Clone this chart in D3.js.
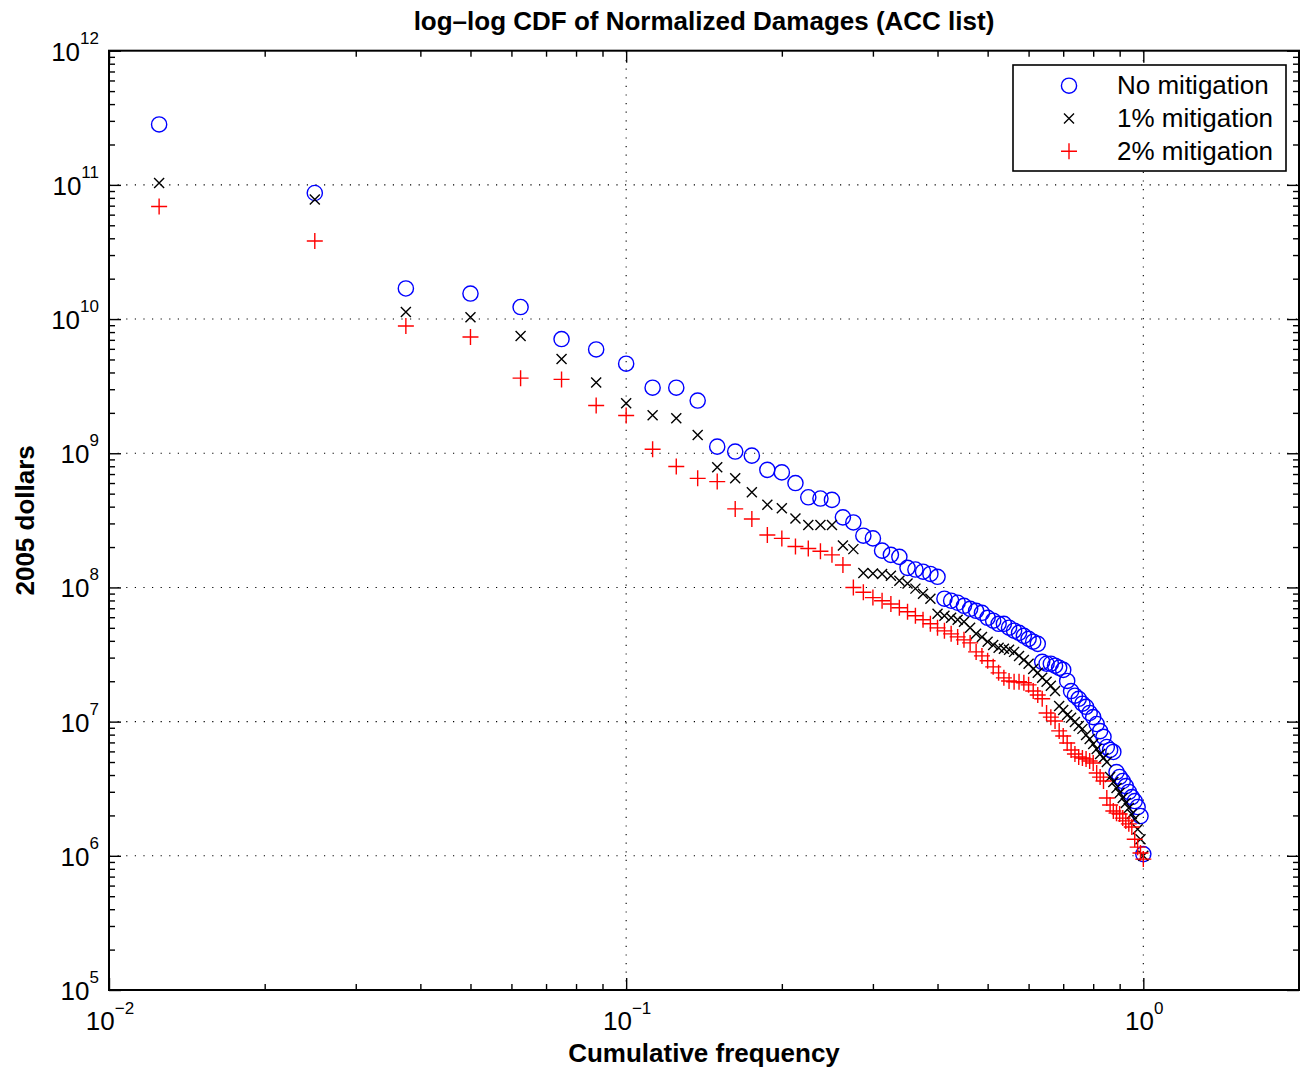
<!DOCTYPE html>
<html>
<head>
<meta charset="utf-8">
<script src="https://cdn.jsdelivr.net/npm/d3@7"></script>
<style>
  html, body { margin: 0; padding: 0; background: #fff; }
  svg { display: block; font-family: "Liberation Sans", Arial, Helvetica, sans-serif; }
</style>
</head>
<body>
<svg id="chart" width="1304" height="1079"></svg>
<script>
// Empirical CDF of normalized hurricane damages (80 events), three mitigation scenarios.
const cumulativeFrequency = [
  0.0125, 0.025, 0.0375, 0.05, 0.0625, 0.075, 0.0875, 0.1, 0.1125, 0.125,
  0.1375, 0.15, 0.1625, 0.175, 0.1875, 0.2, 0.2125, 0.225, 0.2375, 0.25,
  0.2625, 0.275, 0.2875, 0.3, 0.3125, 0.325, 0.3375, 0.35, 0.3625, 0.375,
  0.3875, 0.4, 0.4125, 0.425, 0.4375, 0.45, 0.4625, 0.475, 0.4875, 0.5,
  0.5125, 0.525, 0.5375, 0.55, 0.5625, 0.575, 0.5875, 0.6, 0.6125, 0.625,
  0.6375, 0.65, 0.6625, 0.675, 0.6875, 0.7, 0.7125, 0.725, 0.7375, 0.75,
  0.7625, 0.775, 0.7875, 0.8, 0.8125, 0.825, 0.8375, 0.85, 0.8625, 0.875,
  0.8875, 0.9, 0.9125, 0.925, 0.9375, 0.95, 0.9625, 0.975, 0.9875, 1.0
];

// Damages in 2005 dollars, sorted from largest to smallest.
const noMitigation = [
  2.82e11, 8.7e10, 1.69e10, 1.55e10, 1.23e10, 7.1e9, 5.94e9, 4.65e9, 3.08e9, 3.08e9,
  2.47e9, 1.12e9, 1.03e9, 9.6e8, 7.52e8, 7.2e8, 6.0e8, 4.7e8, 4.6e8, 4.49e8,
  3.33e8, 3.05e8, 2.43e8, 2.32e8, 1.88e8, 1.75e8, 1.69e8, 1.40e8, 1.36e8, 1.31e8,
  1.26e8, 1.20e8, 8.24e7, 7.96e7, 7.69e7, 7.3e7, 6.93e7, 6.70e7, 6.47e7, 5.94e7,
  5.65e7, 5.36e7, 5.36e7, 5.01e7, 4.76e7, 4.59e7, 4.36e7, 4.14e7, 3.94e7, 3.80e7,
  2.79e7, 2.70e7, 2.70e7, 2.61e7, 2.52e7, 2.43e7, 2.01e7, 1.69e7, 1.56e7, 1.48e7,
  1.36e7, 1.29e7, 1.16e7, 1.08e7, 9.6e6, 8.5e6, 7.7e6, 6.47e6, 6.15e6, 5.94e6,
  4.21e6, 3.87e6, 3.61e6, 3.31e6, 2.99e6, 2.74e6, 2.56e6, 2.31e6, 1.98e6, 1.03e6
];

const mitigation1 = [
  1.035e11, 7.78e10, 1.13e10, 1.03e10, 7.47e9, 5.03e9, 3.37e9, 2.36e9, 1.92e9, 1.82e9,
  1.37e9, 7.86e8, 6.5e8, 5.12e8, 4.14e8, 3.89e8, 3.27e8, 2.92e8, 2.92e8, 2.92e8,
  2.05e8, 1.93e8, 1.28e8, 1.27e8, 1.26e8, 1.22e8, 1.12e8, 1.07e8, 9.8e7, 8.97e7,
  8.24e7, 6.37e7, 6.15e7, 5.94e7, 5.74e7, 5.54e7, 5.0e7, 4.51e7, 4.28e7, 3.94e7,
  3.73e7, 3.55e7, 3.49e7, 3.43e7, 3.31e7, 3.09e7, 2.88e7, 2.70e7, 2.47e7, 2.31e7,
  2.12e7, 1.98e7, 1.85e7, 1.69e7, 1.31e7, 1.22e7, 1.12e7, 1.07e7, 9.95e6, 9.29e6,
  8.83e6, 7.96e6, 7.43e6, 6.82e6, 6.25e6, 5.74e6, 5.36e6, 5.0e6, 3.86e6, 3.55e6,
  3.2e6, 2.94e6, 2.70e6, 2.48e6, 2.27e6, 2.05e6, 1.88e6, 1.58e6, 1.33e6, 1.0e6
];

const mitigation2 = [
  6.9e10, 3.82e10, 8.87e9, 7.35e9, 3.63e9, 3.55e9, 2.27e9, 1.91e9, 1.07e9, 7.96e8,
  6.5e8, 6.15e8, 3.85e8, 3.24e8, 2.46e8, 2.32e8, 2.02e8, 1.95e8, 1.86e8, 1.75e8,
  1.47e8, 1.0e8, 9.2e7, 8.4e7, 7.96e7, 7.52e7, 7.06e7, 6.59e7, 6.15e7, 5.74e7,
  5.36e7, 5.0e7, 4.75e7, 4.51e7, 4.28e7, 4.07e7, 3.86e7, 3.31e7, 3.09e7, 2.84e7,
  2.56e7, 2.31e7, 2.12e7, 2.01e7, 1.98e7, 1.98e7, 1.95e7, 1.88e7, 1.69e7, 1.58e7,
  1.48e7, 1.16e7, 1.08e7, 1.01e7, 8.53e6, 7.82e6, 6.93e6, 6.15e6, 5.74e6, 5.46e6,
  5.36e6, 5.27e6, 5.09e6, 4.92e6, 4.14e6, 3.86e6, 3.61e6, 2.70e6, 2.39e6, 2.16e6,
  2.08e6, 2.05e6, 1.91e6, 1.82e6, 1.73e6, 1.64e6, 1.33e6, 1.16e6, 1.05e6, 9.45e5
];

const seriesNames = ["No mitigation", "1% mitigation", "2% mitigation"];
const xMajorTicks = [1e-2, 1e-1, 1e0];
const xTickExponents = ["−2", "−1", "0"];
const yMajorTicks = [1e5, 1e6, 1e7, 1e8, 1e9, 1e10, 1e11, 1e12];
const yTickExponents = ["5", "6", "7", "8", "9", "10", "11", "12"];

const title = "log–log CDF of Normalized Damages (ACC list)";
const xTitle = "Cumulative frequency";
const yTitle = "2005 dollars";

// ---- layout ----
const plot = { left: 109, right: 1299, top: 50.7, bottom: 990 };
const svg = d3.select("#chart");

const x = d3.scaleLog().domain([0.01, 2]).range([plot.left, plot.right]);
const y = d3.scaleLog().domain([1e5, 1e12]).range([plot.bottom, plot.top]);

// Minor tick positions: 2..9 times each power of ten inside the domain
function minorTicks(scale) {
  const [a, b] = scale.domain();
  const out = [];
  for (let e = Math.floor(Math.log10(a)); e <= Math.ceil(Math.log10(b)); e++) {
    for (let m = 2; m <= 9; m++) {
      const v = m * Math.pow(10, e);
      if (v > a && v < b) out.push(v);
    }
  }
  return out;
}
const xMinor = minorTicks(x);
const yMinor = minorTicks(y);

// ---- grid ----
const grid = svg.append("g")
  .attr("stroke", "#000")
  .attr("stroke-width", 1.1)
  .attr("stroke-dasharray", "1.2 7.4")
  .attr("fill", "none");
grid.selectAll("line.gx")
  .data(xMajorTicks.filter(v => x(v) > plot.left + 1))
  .join("line")
  .attr("class", "gx")
  .attr("x1", d => x(d)).attr("x2", d => x(d))
  .attr("y1", plot.bottom).attr("y2", plot.top);
grid.selectAll("line.gy")
  .data(yMajorTicks.filter(v => y(v) < plot.bottom - 1 && y(v) > plot.top + 1))
  .join("line")
  .attr("class", "gy")
  .attr("x1", plot.left).attr("x2", plot.right)
  .attr("y1", d => y(d)).attr("y2", d => y(d));

// ---- inward ticks on all four sides ----
function tickAxis(axisFn, scale, values, size, transform) {
  const g = svg.append("g")
    .attr("transform", transform)
    .call(axisFn(scale).tickValues(values).tickSize(-size).tickSizeOuter(0).tickFormat(""));
  g.select(".domain").remove();
  g.selectAll(".tick line").attr("stroke", "#000").attr("stroke-width", 1.4);
  return g;
}
tickAxis(d3.axisBottom, x, xMajorTicks, 12, `translate(0,${plot.bottom})`);
tickAxis(d3.axisBottom, x, xMinor, 6, `translate(0,${plot.bottom})`);
tickAxis(d3.axisTop, x, xMajorTicks, 12, `translate(0,${plot.top})`);
tickAxis(d3.axisTop, x, xMinor, 6, `translate(0,${plot.top})`);
tickAxis(d3.axisLeft, y, yMajorTicks, 12, `translate(${plot.left},0)`);
tickAxis(d3.axisLeft, y, yMinor, 6, `translate(${plot.left},0)`);
tickAxis(d3.axisRight, y, yMajorTicks, 12, `translate(${plot.right},0)`);
tickAxis(d3.axisRight, y, yMinor, 6, `translate(${plot.right},0)`);

// plot frame
svg.append("rect")
  .attr("x", plot.left).attr("y", plot.top)
  .attr("width", plot.right - plot.left).attr("height", plot.bottom - plot.top)
  .attr("fill", "none").attr("stroke", "#000").attr("stroke-width", 2);

// ---- tick labels as powers of ten ----
const xLabels = svg.append("g").attr("font-size", 26).attr("fill", "#000");
xMajorTicks.forEach((v, i) => {
  const t = xLabels.append("text")
    .attr("x", x(v) + 1).attr("y", plot.bottom + 40)
    .attr("text-anchor", "middle");
  t.append("tspan").text("10");
  t.append("tspan").attr("dy", -16).attr("font-size", 17).text(xTickExponents[i]);
});

const yLabels = svg.append("g").attr("font-size", 26).attr("fill", "#000");
yMajorTicks.forEach((v, i) => {
  const t = yLabels.append("text")
    .attr("x", plot.left - 10).attr("y", y(v) + 10)
    .attr("text-anchor", "end");
  t.append("tspan").text("10");
  t.append("tspan").attr("dy", -17).attr("font-size", 17).text(yTickExponents[i]);
});

// ---- titles ----
svg.append("text")
  .attr("x", (plot.left + plot.right) / 2).attr("y", 30)
  .attr("text-anchor", "middle").attr("font-size", 26).attr("font-weight", "bold")
  .text(title);
svg.append("text")
  .attr("x", (plot.left + plot.right) / 2).attr("y", 1062)
  .attr("text-anchor", "middle").attr("font-size", 26).attr("font-weight", "bold")
  .text(xTitle);
svg.append("text")
  .attr("transform", `translate(34,${(plot.top + plot.bottom) / 2}) rotate(-90)`)
  .attr("text-anchor", "middle").attr("font-size", 26).attr("font-weight", "bold")
  .text(yTitle);

// ---- markers ----
const markerStyles = [
  { color: "#0000ff", shape: "circle" },
  { color: "#000000", shape: "cross" },
  { color: "#ff0000", shape: "plus" }
];
const markerPath = {
  cross: "M-5,-5L5,5M-5,5L5,-5",
  plus: "M-8,0H8M0,-8V8"
};

function drawMarker(sel, style) {
  if (style.shape === "circle") {
    sel.append("circle").attr("r", 7.6)
      .attr("fill", "none").attr("stroke", style.color).attr("stroke-width", 1.4);
  } else {
    sel.append("path").attr("d", markerPath[style.shape])
      .attr("fill", "none").attr("stroke", style.color).attr("stroke-width", 1.4);
  }
}

const allSeries = [noMitigation, mitigation1, mitigation2];
allSeries.forEach((values, si) => {
  const pts = values.map((v, i) => ({ f: cumulativeFrequency[i], v }));
  const g = svg.append("g").attr("class", "series-" + si);
  g.selectAll("g.pt")
    .data(pts)
    .join("g")
    .attr("class", "pt")
    .attr("transform", d => `translate(${x(d.f)},${y(d.v)})`)
    .each(function () { drawMarker(d3.select(this), markerStyles[si]); });
});

// ---- legend ----
const legend = svg.append("g");
legend.append("rect")
  .attr("x", 1013).attr("y", 65).attr("width", 273).attr("height", 106)
  .attr("fill", "#fff").attr("stroke", "#000").attr("stroke-width", 1.6);
seriesNames.forEach((name, i) => {
  const cy = 85.7 + i * 32.8;
  const m = legend.append("g").attr("transform", `translate(1069,${cy})`);
  drawMarker(m, markerStyles[i]);
  legend.append("text")
    .attr("x", 1117).attr("y", cy + 8.6)
    .attr("font-size", 26).attr("fill", "#000")
    .text(name);
});
</script>
</body>
</html>
